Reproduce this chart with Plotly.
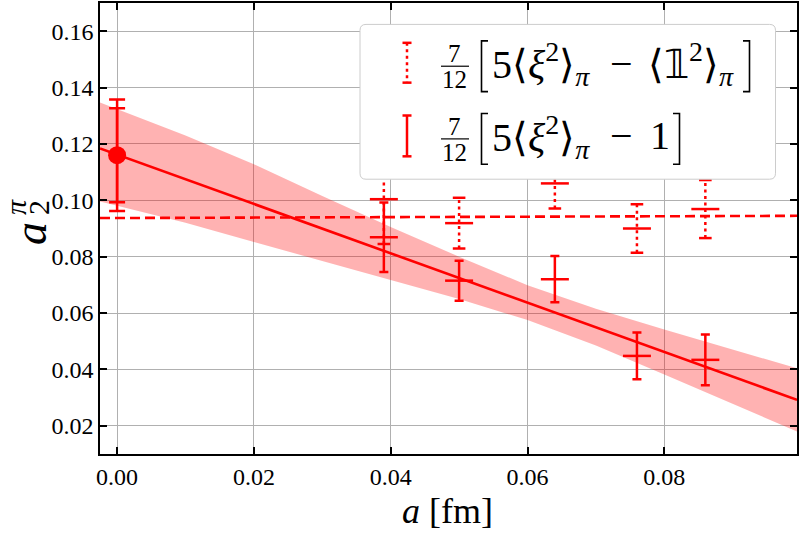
import plotly.graph_objects as go

# ---------------- data ----------------
a_lat = [0.039, 0.050, 0.064, 0.076, 0.086]
a2_one = [0.0869, 0.0715, 0.0720, 0.0448, 0.0434]        # 7/12[5<xi^2>_pi - 1]
a2_one_err = [0.0123, 0.0071, 0.0082, 0.0083, 0.0090]
a2_unit = [0.1004, 0.0919, 0.1060, 0.0900, 0.0969]       # 7/12[5<xi^2>_pi - <1^2>_pi]
a2_unit_err = [0.0159, 0.0090, 0.0089, 0.0086, 0.0103]

a_cont = [0.0]
a2_cont = [0.1160]
a2_cont_err_stat = [0.0167]
a2_cont_err_tot = [0.0198]

fit_a = [-0.0025, 0.0994]
fit_val = [0.1184, 0.0292]
const_a = [-0.0025, 0.0994]
const_val = [0.0937, 0.0945]

band_a = [-0.0025, 0.01, 0.02, 0.03, 0.04, 0.05, 0.06, 0.07, 0.08, 0.09, 0.0994]
band_up = [0.1347, 0.1230, 0.1128, 0.1015, 0.0905, 0.0800, 0.0699, 0.0615, 0.0542, 0.0471, 0.0404]
band_lo = [0.0996, 0.0920, 0.0852, 0.0785, 0.0719, 0.0650, 0.0575, 0.0485, 0.0382, 0.0279, 0.0180]

x_ticks = [0.00, 0.02, 0.04, 0.06, 0.08]
y_ticks = [0.02, 0.04, 0.06, 0.08, 0.10, 0.12, 0.14, 0.16]
x_range = [-0.0025, 0.0994]
y_range = [0.0100, 0.1700]

# ---------------- style / layout constants ----------------
W, H = 800, 535
ML, MR, MT, MB = 100, 3, 1, 81
RED = "#ff0000"
SERIF = "Liberation Serif"


def px(x):
    return (x - ML) / (W - ML - MR)


def py(y):
    return (H - MB - y) / (H - MB - MT)


fig = go.Figure()

# band
fig.add_trace(go.Scatter(x=band_a, y=band_lo, mode="lines", line=dict(width=0),
                         hoverinfo="skip", showlegend=False))
fig.add_trace(go.Scatter(x=band_a, y=band_up, mode="lines", line=dict(width=0),
                         fill="tonexty", fillcolor="rgba(255,0,0,0.3)",
                         hoverinfo="skip", showlegend=False))
# fit line
fig.add_trace(go.Scatter(x=fit_a, y=fit_val, mode="lines",
                         line=dict(color=RED, width=2.6), showlegend=False))
# constant (dashed) fit
fig.add_trace(go.Scatter(x=const_a, y=const_val, mode="lines",
                         line=dict(color=RED, width=2.6, dash="10px,5px"), showlegend=False))

# dotted error bars series
vx, vy = [], []
for a, v, e in zip(a_lat, a2_unit, a2_unit_err):
    vx += [a, a, None]
    vy += [v - e, v + e, None]
fig.add_trace(go.Scatter(x=vx, y=vy, mode="lines",
                         line=dict(color=RED, width=2.5, dash="3px,3.5px"), showlegend=False))
cap_x = a_lat + a_lat
cap_y = [v - e for v, e in zip(a2_unit, a2_unit_err)] + [v + e for v, e in zip(a2_unit, a2_unit_err)]
fig.add_trace(go.Scatter(x=cap_x, y=cap_y, mode="markers",
                         marker=dict(symbol="line-ew", size=9, line=dict(color=RED, width=2.5)),
                         showlegend=False))
fig.add_trace(go.Scatter(x=a_lat, y=a2_unit, mode="markers",
                         marker=dict(symbol="line-ew", size=20, line=dict(color=RED, width=2.5)),
                         showlegend=False))

# solid error bars series
fig.add_trace(go.Scatter(x=a_lat, y=a2_one, mode="markers",
                         marker=dict(symbol="line-ew", size=20, color=RED, line=dict(color=RED, width=2.5)),
                         error_y=dict(type="data", array=a2_one_err, visible=True,
                                      color=RED, thickness=2.5, width=4.5),
                         showlegend=False))

# continuum point
fig.add_trace(go.Scatter(x=a_cont, y=a2_cont, mode="markers",
                         marker=dict(symbol="circle", size=0.1, color=RED),
                         error_y=dict(type="data", array=a2_cont_err_tot, visible=True,
                                      color=RED, thickness=2.5, width=8),
                         showlegend=False))
fig.add_trace(go.Scatter(x=a_cont, y=a2_cont, mode="markers",
                         marker=dict(symbol="circle", size=18, color=RED),
                         error_y=dict(type="data", array=a2_cont_err_stat, visible=True,
                                      color=RED, thickness=2.5, width=8),
                         showlegend=False))

axis_common = dict(showline=True, linecolor="black", linewidth=1.5, mirror="allticks",
                   ticks="inside", ticklen=7, tickwidth=1.5, tickcolor="black",
                   showgrid=True, gridcolor="#b0b0b0", gridwidth=1, zeroline=False,
                   tickfont=dict(family=SERIF, size=24, color="black"))

fig.update_layout(
    width=W, height=H,
    margin=dict(l=ML, r=MR, t=MT, b=MB),
    plot_bgcolor="white", paper_bgcolor="white",
    font=dict(family=SERIF),
    xaxis=dict(range=x_range, tickvals=x_ticks, ticktext=[f"{t:.2f}" for t in x_ticks], **axis_common),
    yaxis=dict(range=y_range, tickvals=y_ticks, ticktext=[f"{t:.2f}" for t in y_ticks], **axis_common),
    showlegend=False,
)

shapes = []
annos = []

# legend box (rounded)
bx0, bx1, by0, by1, r = 360, 775.5, 22.5, 178, 6
path = (f"M {px(bx0 + r)},{py(by0)} L {px(bx1 - r)},{py(by0)} Q {px(bx1)},{py(by0)} {px(bx1)},{py(by0 + r)} "
        f"L {px(bx1)},{py(by1 - r)} Q {px(bx1)},{py(by1)} {px(bx1 - r)},{py(by1)} "
        f"L {px(bx0 + r)},{py(by1)} Q {px(bx0)},{py(by1)} {px(bx0)},{py(by1 - r)} "
        f"L {px(bx0)},{py(by0 + r)} Q {px(bx0)},{py(by0)} {px(bx0 + r)},{py(by0)} Z")
shapes.append(dict(type="path", xref="paper", yref="paper", path=path,
                   fillcolor="white", line=dict(color="#cccccc", width=1), layer="above"))


def seg(x0, y0, x1, y1, width=2.5, dash=None, color=RED):
    d = dict(type="line", xref="paper", yref="paper", x0=px(x0), y0=py(y0), x1=px(x1), y1=py(y1),
             line=dict(color=color, width=width), layer="above")
    if dash:
        d["line"]["dash"] = dash
    shapes.append(d)


# legend handles
hx = 407
seg(hx, 41, hx, 81, dash="3px,3.5px")
seg(hx - 4.5, 41, hx + 4.5, 41)
seg(hx - 4.5, 81, hx + 4.5, 81)
seg(hx, 114, hx, 155)
seg(hx - 4.5, 114, hx + 4.5, 114)
seg(hx - 4.5, 155, hx + 4.5, 155)


def txt(x, y, s, size, xanchor="center", angle=0):
    annos.append(dict(x=px(x), y=py(y), xref="paper", yref="paper", text=s, showarrow=False,
                      xanchor=xanchor, yanchor="middle", textangle=angle,
                      font=dict(family=SERIF, size=size, color="black")))


rows = [(64.5, 750, True), (137.5, 680, False)]
for yc, rb, long_row in rows:
    # fraction 7/12
    txt(455, yc - 12.5, "7", 25)
    txt(455, yc + 13.5, "12", 25)
    seg(441, yc, 469, yc, width=1.2, color="black")
    # big brackets
    top, bot = yc - 25.5, yc + 25.5
    shapes.append(dict(type="path", xref="paper", yref="paper", layer="above",
                       path=f"M {px(488)},{py(top)} L {px(481.5)},{py(top)} L {px(481.5)},{py(bot)} L {px(488)},{py(bot)}",
                       line=dict(color="black", width=1.6)))
    shapes.append(dict(type="path", xref="paper", yref="paper", layer="above",
                       path=f"M {px(rb - 7)},{py(top)} L {px(rb - 0.5)},{py(top)} L {px(rb - 0.5)},{py(bot)} L {px(rb - 7)},{py(bot)}",
                       line=dict(color="black", width=1.6)))
    txt(490, yc - 2, "5⟨<i>ξ</i><sup>2</sup>⟩<sub><i>π</i></sub>", 40, xanchor="left")
    txt(621.5, yc - 3, "−", 40)
    if long_row:
        txt(646, yc - 2, "⟨𝟙<sup>2</sup>⟩<sub><i>π</i></sub>", 40, xanchor="left")
    else:
        txt(660, yc - 3, "1", 40)

# axis labels
txt(447.5, 511, "<i>a</i> [fm]", 36)
txt(31, 233, "<i>a</i>", 46, angle=-90)
txt(38, 206, "2", 30, angle=-90)
txt(15, 206, "<i>π</i>", 30, angle=-90)

fig.update_layout(shapes=shapes, annotations=annos)
fig.write_html("out.html")
